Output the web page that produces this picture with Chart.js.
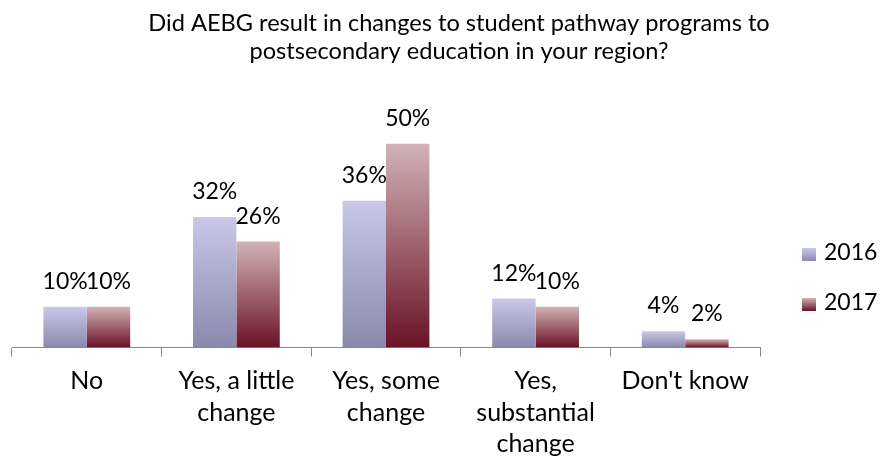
<!DOCTYPE html>
<html>
<head>
<meta charset="utf-8">
<script src="https://cdn.jsdelivr.net/npm/chart.js@4"></script>
<style>
    html, body { margin: 0; padding: 0; background: #fff; }
    #wrap { width: 880px; height: 461px; }
</style>
</head>
<body>
<div id="wrap"><canvas id="pathwayChart"></canvas></div>
<script>
const titleLines = [
    'Did AEBG result in changes to student pathway programs to',
    'postsecondary education in your region?'
];
const categories = ['No', ['Yes, a little', 'change'], ['Yes, some', 'change'], ['Yes,', 'substantial', 'change'], "Don't know"];
const seriesNames = ['2016', '2017'];
const values2016 = [10, 32, 36, 12, 4];
const values2017 = [10, 26, 50, 10, 2];

const FONT = 'Lato, "Open Sans", sans-serif';

// vertical gradient running from the top of each bar down to the axis
function barGradient(top, bottom) {
    return (ctx) => {
        const chart = ctx.chart;
        if (ctx.type !== 'data' || !chart.chartArea) return bottom;
        const y = chart.scales.y;
        const g = chart.ctx.createLinearGradient(0, y.getPixelForValue(ctx.parsed.y), 0, y.getPixelForValue(0));
        g.addColorStop(0, top);
        g.addColorStop(1, bottom);
        return g;
    };
}

const colors = [
    { top: '#cac8e8', bottom: '#8a88ac' },
    { top: '#d1b3b5', bottom: '#6a1225' }
];

// title, value labels and legend
const textPlugin = {
    id: 'textPlugin',
    afterDatasetsDraw(chart) {
        const ctx = chart.ctx;
        ctx.save();
        ctx.fillStyle = '#000';
        ctx.textAlign = 'center';
        ctx.textBaseline = 'alphabetic';

        ctx.font = `23.6px ${FONT}`;
        ctx.fillText(titleLines[0], 459, 31);
        ctx.fillText(titleLines[1], 459, 59);

        ctx.font = `23px ${FONT}`;
        chart.data.datasets.forEach((ds, i) => {
            const meta = chart.getDatasetMeta(i);
            meta.data.forEach((bar, j) => {
                ctx.fillText(ds.data[j] + '%', bar.x, bar.y - 18);
            });
        });

        // legend
        ctx.textAlign = 'left';
        chart.data.datasets.forEach((ds, i) => {
            const y = 248 + i * 50;
            const g = ctx.createLinearGradient(0, y, 0, y + 13);
            g.addColorStop(0, colors[i].top);
            g.addColorStop(1, colors[i].bottom);
            ctx.fillStyle = g;
            ctx.fillRect(802, y, 14, 13);
            ctx.fillStyle = '#000';
            ctx.fillText(ds.label, 824, y + 12);
        });
        ctx.restore();
    }
};

new Chart(document.getElementById('pathwayChart'), {
    type: 'bar',
    data: {
        labels: categories,
        datasets: [
            {
                label: seriesNames[0],
                data: values2016,
                backgroundColor: barGradient(colors[0].top, colors[0].bottom)
            },
            {
                label: seriesNames[1],
                data: values2017,
                backgroundColor: barGradient(colors[1].top, colors[1].bottom)
            }
        ]
    },
    options: {
        responsive: true,
        maintainAspectRatio: false,
        animation: false,
        barPercentage: 1,
        categoryPercentage: 0.58,
        layout: {
            padding: { top: 103, left: 12, right: 120, bottom: -8 }
        },
        plugins: {
            legend: { display: false },
            title: { display: false },
            tooltip: { enabled: false }
        },
        scales: {
            x: {
                grid: {
                    offset: true,
                    drawOnChartArea: false,
                    drawTicks: true,
                    tickLength: 9,
                    color: '#898989'
                },
                border: { display: true, color: '#898989' },
                ticks: {
                    color: '#000',
                    font: { family: FONT, size: 25, lineHeight: 1.26 },
                    padding: 9,
                    maxRotation: 0,
                    autoSkip: false
                }
            },
            y: {
                display: false,
                min: 0,
                max: 60
            }
        }
    },
    plugins: [textPlugin]
});
</script>
</body>
</html>
